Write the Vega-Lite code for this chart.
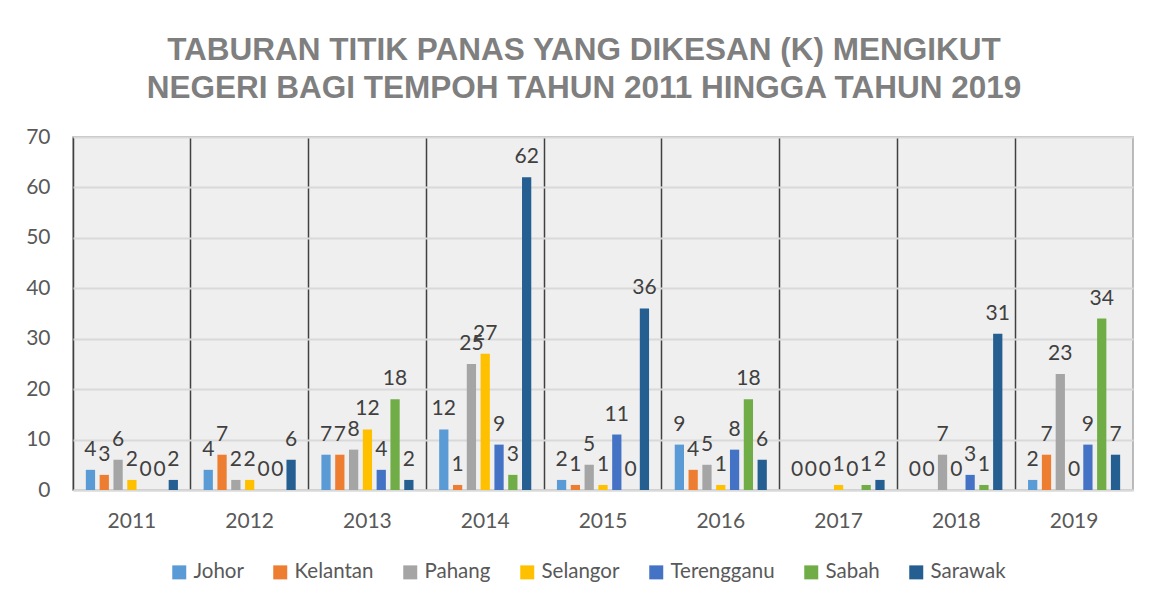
{
  "$schema": "https://vega.github.io/schema/vega-lite/v6.json",
  "autosize": {"type": "none"},
  "width": 1060,
  "height": 353,
  "padding": {"left": 73, "top": 137, "right": 20, "bottom": 116},
  "background": "white",
  "title": {
    "text": ["TABURAN TITIK PANAS YANG DIKESAN (K) MENGIKUT", "NEGERI BAGI TEMPOH TAHUN 2011 HINGGA TAHUN 2019"],
    "font": "Liberation Sans",
    "fontSize": 31.5,
    "fontWeight": "bold",
    "color": "#7f7f7f",
    "lineHeight": 37.5,
    "anchor": "middle",
    "dx": -19,
    "offset": 22
  },
  "config": {
    "view": {"fill": "#efefef", "stroke": "#a6a6a6", "strokeWidth": 1.5},
    "font": "Lato"
  },
  "data": {
    "values": [
      {"year": "2011", "state": "Johor", "value": 4},
      {"year": "2011", "state": "Kelantan", "value": 3},
      {"year": "2011", "state": "Pahang", "value": 6},
      {"year": "2011", "state": "Selangor", "value": 2},
      {"year": "2011", "state": "Terengganu", "value": 0},
      {"year": "2011", "state": "Sabah", "value": 0},
      {"year": "2011", "state": "Sarawak", "value": 2},
      {"year": "2012", "state": "Johor", "value": 4},
      {"year": "2012", "state": "Kelantan", "value": 7},
      {"year": "2012", "state": "Pahang", "value": 2},
      {"year": "2012", "state": "Selangor", "value": 2},
      {"year": "2012", "state": "Terengganu", "value": 0},
      {"year": "2012", "state": "Sabah", "value": 0},
      {"year": "2012", "state": "Sarawak", "value": 6},
      {"year": "2013", "state": "Johor", "value": 7},
      {"year": "2013", "state": "Kelantan", "value": 7},
      {"year": "2013", "state": "Pahang", "value": 8},
      {"year": "2013", "state": "Selangor", "value": 12},
      {"year": "2013", "state": "Terengganu", "value": 4},
      {"year": "2013", "state": "Sabah", "value": 18},
      {"year": "2013", "state": "Sarawak", "value": 2},
      {"year": "2014", "state": "Johor", "value": 12},
      {"year": "2014", "state": "Kelantan", "value": 1},
      {"year": "2014", "state": "Pahang", "value": 25},
      {"year": "2014", "state": "Selangor", "value": 27},
      {"year": "2014", "state": "Terengganu", "value": 9},
      {"year": "2014", "state": "Sabah", "value": 3},
      {"year": "2014", "state": "Sarawak", "value": 62},
      {"year": "2015", "state": "Johor", "value": 2},
      {"year": "2015", "state": "Kelantan", "value": 1},
      {"year": "2015", "state": "Pahang", "value": 5},
      {"year": "2015", "state": "Selangor", "value": 1},
      {"year": "2015", "state": "Terengganu", "value": 11},
      {"year": "2015", "state": "Sabah", "value": 0},
      {"year": "2015", "state": "Sarawak", "value": 36},
      {"year": "2016", "state": "Johor", "value": 9},
      {"year": "2016", "state": "Kelantan", "value": 4},
      {"year": "2016", "state": "Pahang", "value": 5},
      {"year": "2016", "state": "Selangor", "value": 1},
      {"year": "2016", "state": "Terengganu", "value": 8},
      {"year": "2016", "state": "Sabah", "value": 18},
      {"year": "2016", "state": "Sarawak", "value": 6},
      {"year": "2017", "state": "Johor", "value": 0},
      {"year": "2017", "state": "Kelantan", "value": 0},
      {"year": "2017", "state": "Pahang", "value": 0},
      {"year": "2017", "state": "Selangor", "value": 1},
      {"year": "2017", "state": "Terengganu", "value": 0},
      {"year": "2017", "state": "Sabah", "value": 1},
      {"year": "2017", "state": "Sarawak", "value": 2},
      {"year": "2018", "state": "Johor", "value": 0},
      {"year": "2018", "state": "Kelantan", "value": 0},
      {"year": "2018", "state": "Pahang", "value": 7},
      {"year": "2018", "state": "Selangor", "value": 0},
      {"year": "2018", "state": "Terengganu", "value": 3},
      {"year": "2018", "state": "Sabah", "value": 1},
      {"year": "2018", "state": "Sarawak", "value": 31},
      {"year": "2019", "state": "Johor", "value": 2},
      {"year": "2019", "state": "Kelantan", "value": 7},
      {"year": "2019", "state": "Pahang", "value": 23},
      {"year": "2019", "state": "Selangor", "value": 0},
      {"year": "2019", "state": "Terengganu", "value": 9},
      {"year": "2019", "state": "Sabah", "value": 34},
      {"year": "2019", "state": "Sarawak", "value": 7}
    ]
  },
  "encoding": {
    "x": {
      "field": "year",
      "type": "nominal",
      "scale": {"paddingInner": 0, "paddingOuter": 0},
      "axis": {
        "title": null,
        "labelAngle": 0,
        "labelFontSize": 21,
        "labelColor": "#595959",
        "labelPadding": 20,
        "ticks": false,
        "domainColor": "#d9d9d9",
        "domainWidth": 2,
        "grid": true,
        "bandPosition": 0,
        "gridColor": "#404040",
        "gridWidth": 1.5
      }
    },
    "xOffset": {
      "field": "state",
      "type": "nominal",
      "sort": ["Johor", "Kelantan", "Pahang", "Selangor", "Terengganu", "Sabah", "Sarawak"],
      "scale": {"paddingInner": 0.33, "paddingOuter": 0.93}
    },
    "y": {
      "field": "value",
      "type": "quantitative",
      "scale": {"domain": [0, 70]},
      "axis": {
        "title": null,
        "values": [0, 10, 20, 30, 40, 50, 60, 70],
        "labelFontSize": 21,
        "labelColor": "#595959",
        "labelPadding": 23,
        "ticks": false,
        "domain": false,
        "gridColor": "#d9d9d9",
        "gridWidth": 2
      }
    }
  },
  "layer": [
    {
      "mark": {"type": "bar"},
      "encoding": {
        "color": {
          "field": "state",
          "type": "nominal",
          "sort": ["Johor", "Kelantan", "Pahang", "Selangor", "Terengganu", "Sabah", "Sarawak"],
          "scale": {
            "domain": ["Johor", "Kelantan", "Pahang", "Selangor", "Terengganu", "Sabah", "Sarawak"],
            "range": ["#5b9bd5", "#ed7d31", "#a5a5a5", "#ffc000", "#4472c4", "#70ad47", "#255e91"]
          },
          "legend": {
            "title": null,
            "orient": "none",
            "direction": "horizontal",
            "legendX": 96,
            "legendY": 425,
            "symbolType": "square",
            "symbolSize": 196,
            "symbolStrokeWidth": 0,
            "symbolOpacity": 1,
            "labelFontSize": 20.5,
            "labelColor": "#595959",
            "labelOffset": 4,
            "columnPadding": 26
          }
        }
      }
    },
    {
      "mark": {"type": "text", "baseline": "bottom", "dy": -10, "fontSize": 21, "color": "#404040"},
      "encoding": {
        "text": {"field": "value", "type": "quantitative"}
      }
    }
  ]
}
